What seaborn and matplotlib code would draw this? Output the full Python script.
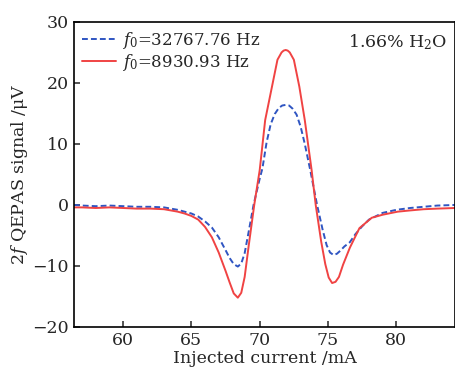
import pandas as pd
import matplotlib
matplotlib.use('Agg')
import matplotlib.pyplot as plt
import seaborn as sns

# Injected current (mA) and 2f QEPAS signal (uV)
current_blue = [56.4, 57, 58, 59, 60, 61, 62, 63, 64, 64.5, 65, 65.5, 66, 66.5, 67, 67.5,
                67.8, 68.1, 68.4, 68.65, 68.9, 69.2, 69.55, 70.0, 70.2, 70.5, 70.8, 71.1,
                71.4, 71.65, 71.9, 72.15, 72.4, 72.7, 73.0, 73.3, 73.7, 74.2, 74.6, 74.9,
                75.15, 75.4, 75.65, 75.9, 76.2, 76.6, 77.0, 77.5, 78, 79, 80, 81, 82, 83, 84.3]
signal_blue = [0.0, -0.1, -0.2, -0.1, -0.2, -0.3, -0.3, -0.4, -0.8, -1.1, -1.4, -1.9, -2.7,
               -3.7, -5.3, -7.4, -8.7, -9.7, -10.1, -9.6, -7.9, -4.3, 0.0, 4.3, 6.0, 10.2,
               13.2, 14.9, 15.9, 16.3, 16.4, 16.3, 15.8, 14.8, 12.8, 10.0, 5.7, 0.0, -4.0,
               -6.6, -7.8, -8.2, -8.0, -7.5, -6.8, -6.1, -4.8, -3.5, -2.4, -1.3, -0.8, -0.5,
               -0.3, -0.1, 0.0]

current_red = [56.4, 57, 58, 59, 60, 61, 62, 63, 64, 64.5, 65, 65.5, 66, 66.5, 67, 67.5,
               67.8, 68.1, 68.4, 68.65, 68.9, 69.2, 69.6, 70.0, 70.4, 70.9, 71.3, 71.6, 71.75,
               71.9, 72.05, 72.2, 72.5, 72.9, 73.3, 73.8, 74.1, 74.5, 74.8, 75.05, 75.3, 75.55,
               75.8, 76.1, 76.6, 77.3, 78.2, 79, 80.1, 81, 82, 83, 84.3]
signal_red = [-0.4, -0.4, -0.5, -0.4, -0.5, -0.6, -0.6, -0.7, -1.1, -1.4, -1.8, -2.4, -3.6,
              -5.3, -7.8, -10.8, -12.7, -14.5, -15.2, -14.4, -11.8, -6.6, 0.0, 5.7, 13.9,
              19.4, 23.8, 25.0, 25.3, 25.4, 25.3, 25.0, 23.8, 19.4, 13.9, 5.7, 0.0, -6.0,
              -9.7, -11.9, -12.8, -12.6, -11.8, -9.8, -7.0, -3.8, -2.1, -1.6, -1.1, -0.9,
              -0.7, -0.6, -0.5]

labels = ['$f_0$=32767.76 Hz', '$f_0$=8930.93 Hz']

df = pd.concat([
    pd.DataFrame({'current': current_blue, 'signal': signal_blue, 'freq': labels[0]}),
    pd.DataFrame({'current': current_red, 'signal': signal_red, 'freq': labels[1]}),
])

sns.set_style('ticks')
plt.rcParams['font.family'] = ['DejaVu Serif']
plt.rcParams['mathtext.fontset'] = 'dejavuserif'

fig = plt.figure(figsize=(4.56, 3.78), dpi=100)
ax = fig.add_axes([0.162, 0.135, 0.836, 0.807])

sns.lineplot(data=df, x='current', y='signal', hue='freq', style='freq',
             palette=['#2f55c2', '#f04343'], dashes=[(3, 1.6), ''],
             linewidth=1.4, ax=ax, sort=False)

ax.set_xlim(56.4, 84.3)
ax.set_ylim(-20, 30)
ax.set_xticks([60, 65, 70, 75, 80])
ax.set_yticks([-20, -10, 0, 10, 20, 30])
ax.set_yticklabels(['\u221220', '\u221210', '0', '10', '20', '30'])
ax.tick_params(direction='in', length=4, width=1.1, labelsize=12.5, top=False, right=False)
for s in ax.spines.values():
    s.set_visible(True)
    s.set_linewidth(1.2)
    s.set_color('black')

ax.set_xlabel('Injected current /mA', fontsize=12.5, labelpad=1)
ax.set_ylabel('2$f$ QEPAS signal /\u03bcV', fontsize=12.5, labelpad=2)

leg = ax.legend(loc='upper left', frameon=False, fontsize=12, handlelength=2.0,
                borderaxespad=0.1, handletextpad=0.4, labelspacing=0.05)
ax.text(0.98, 0.965, '1.66% H$_2$O', transform=ax.transAxes, ha='right', va='top',
        fontsize=12.5)

fig.savefig('out.png', dpi=100)
